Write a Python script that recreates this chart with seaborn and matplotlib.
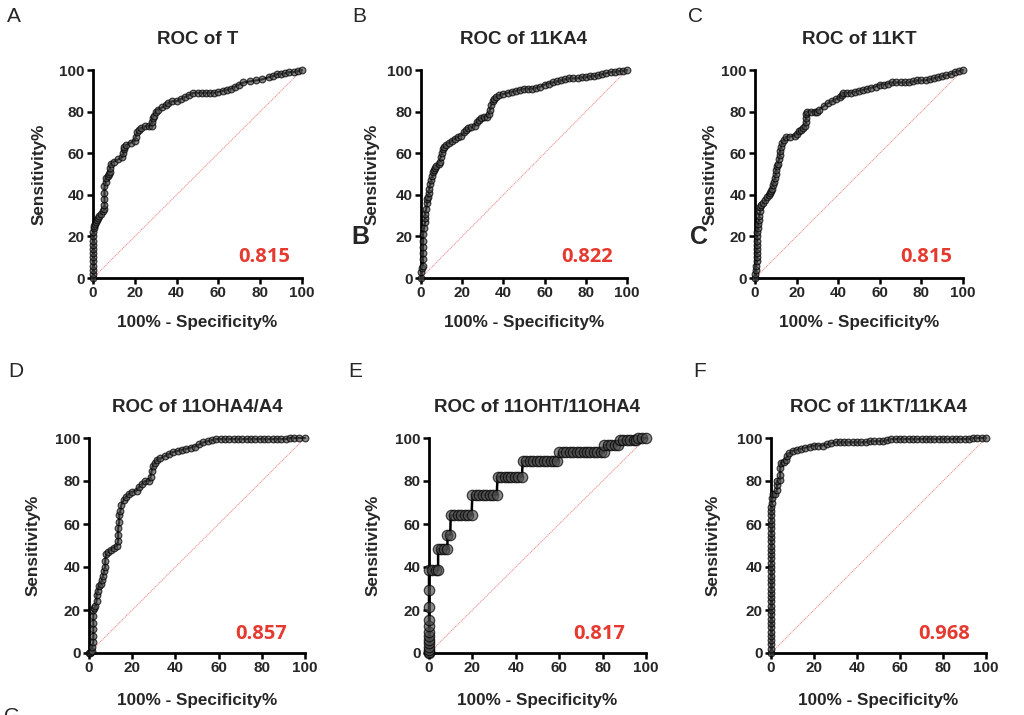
import matplotlib
matplotlib.use("Agg")
import matplotlib.pyplot as plt
import seaborn as sns

# ROC points (100% - Specificity%, Sensitivity%)
roc_t = [(0,0),(0,2),(0,4),(0,6),(0,8),(0,10),(0,12),(0,14),(0,16),(0,18),(0,20),(0,22),(0.5,24),(0.5,25),
         (1,26),(1.5,27),(2,28),(2.5,29),(3,30),(4,31),(5,32),(5.5,33),(5.5,35),(5.5,38),(5.5,41),(5.5,44),
         (6,46),(6,48),(7,49),(7.5,50),(8,51),(8,53),(8.5,55),(10,56),(12,57),(14,58),(14.5,60),(15,62),
         (15,63),(16,64),(18,65),(20,66),(20.5,68),(21,70),(22,71),(23,72),(25,73),(27,73),(28,73),(28,75),
         (28.5,77),(29,78),(30,80),(31,81),(33,82),(35,83),(36,84),(38,85),(40,85),(42,86),(44,87),(46,88),
         (48,89),(50,89),(52,89),(54,89),(56,89),(58,89),(60,89.5),(62,90),(64,90.5),(66,91),(68,92),(70,93),
         (72,94),(75,94.5),(78,95),(81,95.5),(84,96.5),(86,97),(88,98),(90,98),(92,98.5),(94,99),(96,99),
         (98,99.5),(100,100)]

roc_11ka4 = [(0,0),(0,3),(0.5,5),(1,6),(1,9),(1,12),(1,15),(1,18),(1,21),(1.5,24),(2,27),(2,29),(2,31),
             (2.5,33),(3,36),(3,38),(3.5,39),(4,41),(4,43),(4.5,45),(5,47),(5.5,49),(6,51),(6.5,52),(7,53),
             (7.5,54),(8.5,55),(9,56),(9.5,58),(10,60),(10.5,62),(11,63),(12,64),(13.5,65),(15,66),(16.5,67),
             (18,68),(19.5,68.5),(21,70),(22,71),(23,72),(24.5,72.5),(26,73),(27,75),(28,76),(29,77),(30.5,77.5),
             (32,77.5),(33,79),(33.5,81),(34,83),(35,85),(35.5,86),(36.5,87),(38,88),(40,88.5),(42,89),(44,89.5),
             (46,90),(48,90.5),(50,91),(52,91),(54,91),(56,91.5),(58,92),(60,93),(62,93.5),(64,94),(66,94.5),
             (68,95),(70,95.5),(72,96),(74,96),(76,96),(78,96.5),(80,96.5),(82,97),(84,97),(86,97.5),(88,98),
             (90,98.5),(92,99),(94,99),(96,99.5),(98,99.5),(100,100)]

roc_11kt = [(0,0),(0,2),(0.5,4),(0.5,6),(1,8),(1,10),(1,12),(1,14),(1,16),(1,18),(1,20),(1,22),(1.5,24),
            (1.5,26),(2,28),(2,30),(2.5,32),(2.5,34),(3,35),(4,36),(5,37.5),(6,39),(6.5,40),(7,41),(7.5,42),
            (8,43),(8.5,44.5),(9,46),(9.5,48),(10,50),(10,52),(10.5,54),(11,55),(11.5,57),(12,59),(12,61),
            (12.5,63),(13,65),(14,66.5),(15,68),(17,68),(19,68.5),(20,69),(21,70.5),(22,71),(23,72),(24,73),
            (24.5,75),(24.5,77),(24.5,79),(25,80),(27,80),(29,80),(30,80),(31,81),(33,82.5),(35,84),(37,85),
            (39,86),(41,87),(42,88),(42.5,89),(44,89),(46,89),(48,89.5),(50,90),(52,90.5),(54,91),(56,91.5),
            (58,92),(60,93),(62,93),(64,93.5),(66,94),(68,94),(70,94),(72,94),(74,94),(76,94.5),(78,95),
            (80,95),(82,95),(84,95.5),(86,96),(88,96.5),(90,97),(92,97.5),(94,98),(96,99),(98,99.5),(100,100)]

roc_11oha4_a4 = [(0,0),(0.5,0),(1,0.5),(1.5,1),(1.5,3),(2,5),(2,8),(2,11),(2,14),(2,17),(2,20),(2.5,21),
                 (3,22),(3.5,24),(3.5,27),(4,29),(4.5,31),(5.5,32),(6,34),(6.5,36),(7,38),(7.5,40),(7.5,43),
                 (8,46),(9,47),(10,48),(11.5,49),(13,50),(13.5,52),(13.5,55),(13.5,58),(14,61),(14,64),
                 (14.5,66),(15,69),(16,71),(17,72.5),(18.5,74),(20,75),(22,75.5),(23,77),(24.5,78.5),(26,80),
                 (28,80),(28.5,82),(29,84.5),(29.5,87),(30.5,88.5),(31.5,90),(33,90.5),(35,91.5),(37,92.5),
                 (39,93.5),(41,94),(43,94.5),(45,95),(47,95.5),(49,96),(51,97),(53,98),(55,98.5),(57,99),
                 (59,99.5),(61,99.5),(63,99.5),(65,99.5),(67,99.5),(69,99.5),(71,99.5),(73,99.5),(75,99.5),
                 (77,99.5),(79,99.5),(81,99.5),(83,99.5),(85,99.5),(87,99.5),(89,99.5),(91,99.5),(93,100),
                 (95,100),(97,100),(100,100)]

roc_11oht_11oha4 = [(0,0),(0,0.5),(0,1.5),(0,3),(0,4.5),(0,6),(0,8),(0,10),(0,12.5),(0,15.5),(0,21.5),
                    (0,29.5),(0,38.5),(1.5,38.5),(3,38.5),(4.2,38.5),(4.2,48.3),(5.6,48.3),(7,48.3),
                    (8.5,48.3),(8.5,55),(9.8,55),(10,64),(11.6,64),(13.2,64),(14.8,64),(16.4,64),(18,64),
                    (19.6,64),(20,73.6),(21.6,73.6),(23.2,73.6),(24.8,73.6),(26.4,73.6),(28,73.6),(29.6,73.6),
                    (31.2,73.6),(31.6,82),(33.2,82),(34.8,82),(36.4,82),(38,82),(39.6,82),(41.2,82),(42.8,82),
                    (43.2,89.3),(44.8,89.3),(46.4,89.3),(48,89.3),(49.6,89.3),(51.2,89.3),(52.8,89.3),
                    (54.4,89.3),(56,89.3),(57.6,89.3),(59.2,89.3),(60,93.4),(61.6,93.4),(63.2,93.4),
                    (64.8,93.4),(66.4,93.4),(68,93.4),(69.6,93.4),(71.2,93.4),(72.8,93.4),(74.4,93.4),
                    (76,93.4),(77.6,93.4),(79.2,93.4),(80.5,93.4),(80.8,96.8),(82.4,96.8),(84,96.8),
                    (85.6,96.8),(87.2,96.8),(88,98.9),(89.6,98.9),(91.2,98.9),(92.8,98.9),(94.4,98.9),
                    (95.6,98.9),(96.4,100),(98,100),(100,100)]

roc_11kt_11ka4 = [(0,0),(0,2),(0,4),(0,6),(0,8),(0,10),(0,12),(0,14),(0,16),(0,18),(0,20),(0,22),(0,24),
                  (0,26),(0,28),(0,30),(0,32),(0,34),(0,36),(0,38),(0,40),(0,42),(0,44),(0,46),(0,48),(0,50),
                  (0,52),(0,54),(0,56),(0,58),(0,60),(0,62),(0,64),(0,66),(0,68),(0.5,70),(0.5,72),(1,74),
                  (2,74),(2.8,76),(2.8,78),(3,80),(4,80.5),(4.3,83),(4.3,86),(4.5,88.5),(6,89),(7,90),
                  (7.5,91.5),(8.5,93),(10,94),(12,94.5),(14,95),(16,95.5),(18,96),(20,96.5),(22,96.5),
                  (24,96.5),(26,97),(28,97.5),(30,98),(32,98),(34,98),(36,98),(38,98),(40,98),(42,98),(44,98),
                  (46,98.5),(48,98.5),(50,98.5),(52,98.5),(54,99),(56,99.5),(58,99.5),(60,99.5),(62,99.5),
                  (64,99.5),(66,99.5),(68,99.5),(70,99.5),(72,99.5),(74,99.5),(76,99.5),(78,99.5),(80,99.5),
                  (82,99.5),(84,99.5),(86,99.5),(88,99.5),(90,99.5),(92,99.5),(94,100),(96,100),(98,100),
                  (100,100)]

titles = ['ROC of T', 'ROC of 11KA4', 'ROC of 11KT',
          'ROC of 11OHA4/A4', 'ROC of 11OHT/11OHA4', 'ROC of 11KT/11KA4']
auc_labels = ['0.815', '0.822', '0.815', '0.857', '0.817', '0.968']
panel_letters = ['A', 'B', 'C', 'D', 'E', 'F']
curves = [roc_t, roc_11ka4, roc_11kt, roc_11oha4_a4, roc_11oht_11oha4, roc_11kt_11ka4]
ref_line = [0, 100]
ticks = [0, 20, 40, 60, 80, 100]

# layout in pixels (left, top, right, bottom)
W, H = 1024, 715
boxes = [(93, 70, 302, 278), (421, 70, 627, 278), (755, 70, 963, 278),
         (89, 438, 305, 653), (429, 438, 646, 653), (771, 438, 986, 653)]
ylabel_x = [39, 372, 710, 33, 373, 713]
auc_right = [290, 613, 952, 287, 625, 970]
letter_pos = [(7, 22), (352, 22), (688, 22), (8, 377), (348, 377), (693, 377)]

sns.set_style('ticks')
plt.rcParams['font.family'] = ['Liberation Sans', 'DejaVu Sans']

fig = plt.figure(figsize=(W / 100, H / 100), dpi=100)

for i, pts in enumerate(curves):
    l, t, r, b = boxes[i]
    ax = fig.add_axes([l / W, 1 - b / H, (r - l) / W, (b - t) / H])
    xs = [p[0] for p in pts]
    ys = [p[1] for p in pts]

    sns.lineplot(x=ref_line, y=ref_line, ax=ax, color='#ee8a8a', lw=0.7,
                 linestyle=(0, (1.2, 0.8)), zorder=1)
    big = i == 4
    sns.lineplot(x=xs, y=ys, ax=ax, sort=False, estimator=None, color='black',
                 lw=1.8 if big else 1.5,
                 marker='o', markersize=7.5 if big else 4.8,
                 markerfacecolor=(0.3, 0.3, 0.3, 0.65),
                 markeredgecolor=(0, 0, 0, 0.7), markeredgewidth=0.9,
                 clip_on=False, zorder=3)

    ax.set_xlim(0, 100)
    ax.set_ylim(0, 100)
    ax.set_xticks(ticks)
    ax.set_yticks(ticks)
    sns.despine(ax=ax)
    for s in ['left', 'bottom']:
        ax.spines[s].set_linewidth(2)
        ax.spines[s].set_color('black')
    ax.tick_params(length=4, width=1.8, color='black', pad=2)
    for lab in ax.get_xticklabels() + ax.get_yticklabels():
        lab.set_fontsize(11)
        lab.set_fontweight('bold')

    ax.set_title(titles[i], fontsize=13.5, fontweight='bold', pad=19)
    ax.set_xlabel('100% - Specificity%', fontsize=12.3, fontweight='bold')
    ax.set_ylabel('Sensitivity%', fontsize=12.3, fontweight='bold')
    xl_y = 322 if i < 3 else 700
    ax.xaxis.set_label_coords((l + r) / 2 / W, 1 - xl_y / H, transform=fig.transFigure)
    ax.yaxis.set_label_coords(ylabel_x[i] / W, 1 - (t + b) / 2 / H, transform=fig.transFigure)
    ax.xaxis.label.set_va('center')
    ax.yaxis.label.set_va('center')

    auc_y = 257 if i < 3 else 634
    fig.text(auc_right[i] / W, 1 - auc_y / H, auc_labels[i], ha='right', va='center',
             color='#e53a30', fontsize=14.5, fontweight='bold', family=['Open Sans', 'DejaVu Sans'])

    lx, ly = letter_pos[i]
    fig.text(lx / W, 1 - ly / H, panel_letters[i], fontsize=15, ha='left', va='baseline')

# stray bold letters from the original figure layout
fig.text(360 / W, 1 - 237 / H, 'B', fontsize=18, fontweight='bold', ha='center', va='center')
fig.text(699 / W, 1 - 237 / H, 'C', fontsize=18, fontweight='bold', ha='center', va='center')
# next panel letter, cut by the lower edge as in the source
fig.text(4 / W, 1 - 722 / H, 'G', fontsize=15, ha='left', va='baseline')

fig.savefig('out.png', dpi=100, facecolor='white')
